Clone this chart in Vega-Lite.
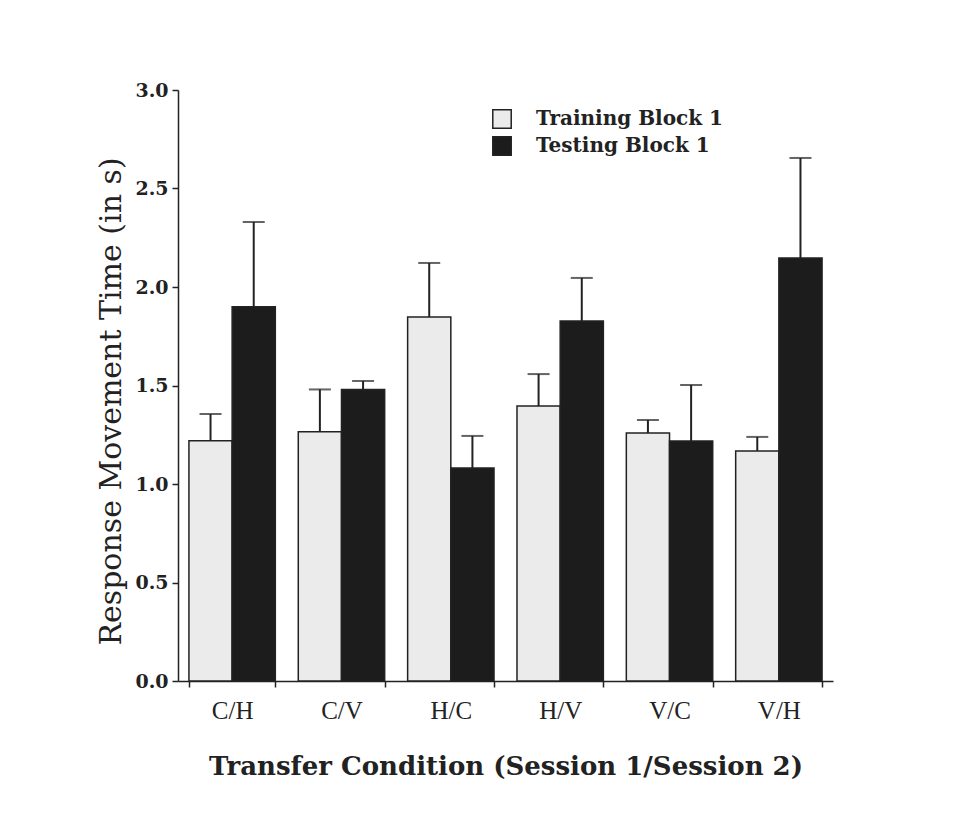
{
  "$schema": "https://vega.github.io/schema/vega-lite/v6.json",
  "width": 655,
  "height": 591,
  "autosize": {"type": "none"},
  "padding": {"left": 178, "top": 90, "right": 140, "bottom": 142},
  "background": "white",
  "config": {
    "font": "DejaVu Serif",
    "view": {"stroke": null},
    "axis": {"domainColor": "#222", "tickColor": "#222", "labelColor": "#222", "titleColor": "#222", "grid": false}
  },
  "data": {
    "values": [
      {"condition": "C/H", "block": "Training Block 1", "value": 1.22, "upper": 1.355},
      {"condition": "C/H", "block": "Testing Block 1", "value": 1.90, "upper": 2.33},
      {"condition": "C/V", "block": "Training Block 1", "value": 1.265, "upper": 1.48},
      {"condition": "C/V", "block": "Testing Block 1", "value": 1.48, "upper": 1.523},
      {"condition": "H/C", "block": "Training Block 1", "value": 1.848, "upper": 2.122},
      {"condition": "H/C", "block": "Testing Block 1", "value": 1.081, "upper": 1.244},
      {"condition": "H/V", "block": "Training Block 1", "value": 1.396, "upper": 1.558},
      {"condition": "H/V", "block": "Testing Block 1", "value": 1.827, "upper": 2.046},
      {"condition": "V/C", "block": "Training Block 1", "value": 1.259, "upper": 1.325},
      {"condition": "V/C", "block": "Testing Block 1", "value": 1.218, "upper": 1.503},
      {"condition": "V/H", "block": "Training Block 1", "value": 1.168, "upper": 1.239},
      {"condition": "V/H", "block": "Testing Block 1", "value": 2.147, "upper": 2.655}
    ]
  },
  "encoding": {
    "x": {
      "field": "condition", "type": "nominal",
      "scale": {"paddingInner": 0.21, "paddingOuter": 0.1},
      "axis": {
        "title": "Transfer Condition (Session 1/Session 2)",
        "labelAngle": 0, "labelFont": "Liberation Serif", "labelFontSize": 25, "labelPadding": 11,
        "titleFontSize": 26, "titleFontWeight": "bold", "titlePadding": 30,
        "tickBand": "extent", "tickSize": 6, "domainWidth": 1.5, "tickWidth": 1.5
      }
    },
    "xOffset": {"field": "block", "type": "nominal", "sort": ["Training Block 1", "Testing Block 1"], "scale": {"paddingInner": 0, "paddingOuter": 0}}
  },
  "layer": [
    {
      "mark": {"type": "rule", "color": "#222", "strokeWidth": 2},
      "encoding": {
        "y": {"field": "value", "type": "quantitative"},
        "y2": {"field": "upper"}
      }
    },
    {
      "mark": {"type": "tick", "color": "#222", "thickness": 2, "size": 22, "orient": "horizontal"},
      "encoding": {
        "y": {"field": "upper", "type": "quantitative"}
      }
    },
    {
      "mark": {"type": "bar", "stroke": "#222", "strokeWidth": 1.5},
      "encoding": {
        "y": {
          "field": "value", "type": "quantitative",
          "scale": {"domain": [0, 3]},
          "axis": {
            "title": "Response Movement Time (in s)",
            "values": [0, 0.5, 1, 1.5, 2, 2.5, 3], "format": ".1f",
            "labelFontSize": 19, "labelFontWeight": "bold", "labelPadding": 4,
            "titleFontSize": 30, "titleFontWeight": "normal", "titlePadding": 8, "titleY": 311,
            "tickSize": 6, "domainWidth": 1.5, "tickWidth": 1.5
          }
        },
        "color": {
          "field": "block", "type": "nominal",
          "sort": ["Training Block 1", "Testing Block 1"],
          "scale": {"domain": ["Training Block 1", "Testing Block 1"], "range": ["#ebebeb", "#1c1c1c"]},
          "legend": {
            "title": null, "orient": "none", "legendX": 314, "legendY": 19,
            "symbolType": "square", "symbolSize": 340, "symbolStrokeColor": "#222", "symbolStrokeWidth": 1.5,
            "labelFontSize": 20, "labelFontWeight": "bold", "labelColor": "#222", "labelOffset": 24, "labelLimit": 400, "rowPadding": 1
          }
        }
      }
    }
  ]
}
